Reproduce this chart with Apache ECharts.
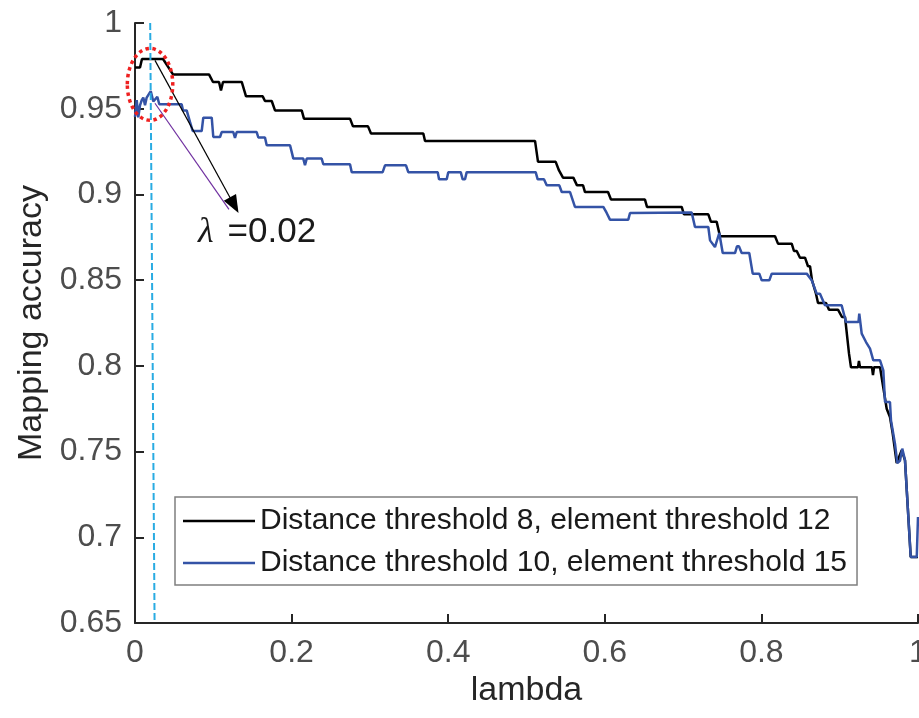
<!DOCTYPE html>
<html>
<head>
<meta charset="utf-8">
<title>Mapping accuracy vs lambda</title>
<script src="https://cdn.jsdelivr.net/npm/echarts@6/dist/echarts.min.js"></script>
<style>
  html, body { margin: 0; padding: 0; background: #fff; }
  #chart { width: 919px; height: 718px; }
</style>
</head>
<body>
<div id="chart"></div>
<script>
// Series 1: distance threshold 8, element threshold 12
const lambdaA = [0, 0.0064, 0.0089, 0.0358, 0.0485, 0.0945, 0.0996, 0.1073, 0.1098, 0.1124,
  0.1363, 0.1418, 0.1631, 0.1660, 0.1746, 0.1788, 0.2129, 0.2158, 0.2746, 0.2784,
  0.2976, 0.3014, 0.3682, 0.3704, 0.5109, 0.5147, 0.5373, 0.5415, 0.5434, 0.5466,
  0.5598, 0.5645, 0.5722, 0.5747, 0.6041, 0.6079, 0.6513, 0.6539, 0.6982, 0.7011,
  0.7322, 0.7356, 0.7429, 0.7471, 0.8174, 0.8212, 0.8387, 0.8416, 0.8451, 0.8493,
  0.8557, 0.8595, 0.8621, 0.8646, 0.8697, 0.8723, 0.8825, 0.8863, 0.8978, 0.9029,
  0.9068, 0.9119, 0.9144, 0.9234, 0.9246, 0.9259, 0.9412, 0.9425, 0.9438, 0.9515,
  0.9600, 0.9642, 0.9677, 0.9728, 0.9792, 0.9834, 0.9907, 1.0];
const accA = [0.974, 0.974, 0.979, 0.979, 0.970, 0.970, 0.9656, 0.9656, 0.9607, 0.9656,
  0.9656, 0.9572, 0.9572, 0.9545, 0.9545, 0.949, 0.949, 0.9442, 0.9442, 0.9397,
  0.9397, 0.9355, 0.9355, 0.9312, 0.9312, 0.919, 0.919, 0.914, 0.914, 0.9098,
  0.9098, 0.9053, 0.9053, 0.9014, 0.9014, 0.897, 0.897, 0.8927, 0.8927, 0.8884,
  0.8884, 0.884, 0.884, 0.8756, 0.8756, 0.8713, 0.8713, 0.867, 0.867, 0.8631,
  0.8631, 0.8581, 0.8581, 0.85, 0.8421, 0.8367, 0.8367, 0.8328, 0.8328, 0.8285,
  0.8285, 0.8071, 0.7992, 0.7992, 0.8028, 0.7992, 0.7992, 0.7946, 0.7992, 0.7992,
  0.775, 0.7702, 0.7605, 0.7433, 0.7508, 0.7449, 0.6885, 0.6885];

// Series 2: distance threshold 10, element threshold 15
const lambdaB = [0, 0.0022, 0.0042, 0.0064, 0.0086, 0.0106, 0.0128, 0.0149, 0.0170, 0.0201,
  0.0234, 0.0285, 0.0310, 0.0596, 0.0613, 0.0660, 0.0702, 0.0737, 0.0852, 0.0872,
  0.0980, 0.1000, 0.1086, 0.1107, 0.1255, 0.1277, 0.1299, 0.1554, 0.1575, 0.1660,
  0.1682, 0.1980, 0.2001, 0.2022, 0.2149, 0.2171, 0.2193, 0.2384, 0.2405, 0.2746,
  0.2768, 0.3163, 0.3193, 0.3461, 0.3490, 0.3866, 0.3883, 0.3981, 0.4001, 0.4160,
  0.4185, 0.4215, 0.4236, 0.5117, 0.5143, 0.5223, 0.5258, 0.5419, 0.5450, 0.5556,
  0.5619, 0.5981, 0.6024, 0.6041, 0.6066, 0.6300, 0.6322, 0.7110, 0.7152, 0.7322,
  0.7344, 0.7407, 0.7462, 0.7506, 0.7663, 0.7688, 0.7714, 0.7748, 0.7845, 0.7889,
  0.7973, 0.8004, 0.8101, 0.8132, 0.8579, 0.8642, 0.8706, 0.8748, 0.8812, 0.9025,
  0.9080, 0.9240, 0.9250, 0.9281, 0.9336, 0.9387, 0.9429, 0.9515, 0.9557, 0.9579,
  0.9642, 0.9655, 0.9706, 0.9736, 0.9770, 0.9799, 0.9834, 0.9907, 0.9984, 1.0];
const accB = [0.9452, 0.955, 0.945, 0.952, 0.955, 0.9565, 0.952, 0.9565, 0.9565, 0.9603,
  0.9542, 0.957, 0.9526, 0.9526, 0.949, 0.949, 0.9423, 0.937, 0.937, 0.9448,
  0.9448, 0.9335, 0.9335, 0.9364, 0.9364, 0.9329, 0.9364, 0.9364, 0.9332, 0.9332,
  0.9287, 0.9287, 0.9248, 0.9209, 0.9209, 0.917, 0.9209, 0.9209, 0.9176, 0.9176,
  0.913, 0.913, 0.917, 0.917, 0.913, 0.913, 0.9088, 0.9088, 0.913, 0.913,
  0.9088, 0.9088, 0.913, 0.913, 0.9088, 0.9088, 0.9053, 0.9053, 0.9014, 0.9014,
  0.8927, 0.8927, 0.8892, 0.8892, 0.8853, 0.8853, 0.8892, 0.8894, 0.881, 0.881,
  0.8732, 0.8693, 0.8775, 0.8658, 0.8658, 0.8697, 0.8697, 0.8658, 0.8658, 0.8538,
  0.8538, 0.8499, 0.8499, 0.8538, 0.8538, 0.85, 0.8421, 0.8421, 0.8353, 0.8353,
  0.8256, 0.8256, 0.8305, 0.8188, 0.8139, 0.81, 0.8032, 0.8032, 0.7974, 0.7789,
  0.7789, 0.7682, 0.7546, 0.7433, 0.7446, 0.7517, 0.7449, 0.6885, 0.6885, 0.7118];

const seriesNames = ['Distance threshold 8, element threshold 12',
                     'Distance threshold 10, element threshold 15'];
const xTicks = [0, 0.2, 0.4, 0.6, 0.8, 1];
const yTicks = [0.65, 0.7, 0.75, 0.8, 0.85, 0.9, 0.95, 1];

// Chosen lambda marker line (top and bottom ends)
const markerLine = [[0.0194, 1], [0.0250, 0.65]];
const markerLabel = '0.02';
// Annotation anchors in data units
const ellipseCenter = [0.0192, 0.9642];
const ellipseRadius = [0.029, 0.021];
const arrowBlack = [[0.0255, 0.9782], [0.1267, 0.8937]];
const arrowPurple = [[0.0255, 0.9532], [0.1200, 0.8913]];
const labelAnchor = [0.0805, 0.8779];

const zip = (xs, ys) => xs.map((x, i) => [x, ys[i]]);
const FONT = "'Liberation Sans', Arial, Helvetica, sans-serif";
const AXIS = '#262626';

const chart = echarts.init(document.getElementById('chart'), null, { renderer: 'canvas' });

chart.setOption({
  animation: false,
  backgroundColor: '#fff',
  textStyle: { fontFamily: FONT },
  grid: { left: 135, right: 1, top: 23, bottom: 95, containLabel: false, outerBoundsMode: 'none' },
  legend: {
    data: seriesNames,
    orient: 'vertical',
    left: 175, top: 497,
    padding: [6, 10, 4, 8],
    itemGap: 6,
    itemWidth: 72, itemHeight: 2.4,
    icon: 'rect',
    backgroundColor: '#fff',
    borderColor: '#7f7f7f', borderWidth: 1.5,
    textStyle: { fontSize: 30, color: '#1a1a1a', fontFamily: FONT, lineHeight: 36 }
  },
  xAxis: {
    type: 'value', min: xTicks[0], max: xTicks[xTicks.length - 1], interval: 0.2,
    name: 'lambda', nameLocation: 'middle', nameGap: 46,
    nameTextStyle: { fontSize: 34, color: AXIS, fontFamily: FONT },
    axisLine: { lineStyle: { color: AXIS, width: 2 } },
    axisTick: { inside: true, length: 9, lineStyle: { color: AXIS, width: 2 } },
    axisLabel: { fontSize: 32, color: '#4d4d4d', margin: 14, fontFamily: FONT,
                 formatter: v => String(+v.toFixed(2)) },
    splitLine: { show: false }
  },
  yAxis: {
    type: 'value', min: yTicks[0], max: yTicks[yTicks.length - 1], interval: 0.05,
    name: 'Mapping accuracy', nameLocation: 'middle', nameGap: 86,
    nameTextStyle: { fontSize: 34, color: AXIS, fontFamily: FONT },
    axisLine: { show: true, lineStyle: { color: AXIS, width: 2 } },
    axisTick: { show: true, inside: true, length: 9, lineStyle: { color: AXIS, width: 2 } },
    axisLabel: { fontSize: 32, color: '#4d4d4d', margin: 13, fontFamily: FONT,
                 formatter: v => String(+v.toFixed(2)) },
    splitLine: { show: false }
  },
  series: [
    {
      name: seriesNames[0], type: 'line', data: zip(lambdaA, accA),
      symbol: 'none', lineStyle: { color: '#000000', width: 2.5 },
      itemStyle: { color: '#000000' }
    },
    {
      name: seriesNames[1], type: 'line', data: zip(lambdaB, accB),
      symbol: 'none', lineStyle: { color: '#3453a6', width: 2.5 },
      itemStyle: { color: '#3453a6' }
    },
    {
      name: 'marker', type: 'line', data: markerLine, symbol: 'none', silent: true,
      lineStyle: { color: '#29abe2', width: 2, type: [7, 3] },
      markLine: {
        silent: true, animation: false, symbol: ['none', 'none'],
        label: { show: false },
        data: [
          [
            { coord: arrowBlack[0], lineStyle: { color: '#000000', width: 1.2, type: 'solid' },
              itemStyle: { color: '#000000' } },
            { coord: arrowBlack[1], symbol: 'triangle', symbolSize: [14, 18],
              itemStyle: { color: '#000000' } }
          ],
          [
            { coord: arrowPurple[0], lineStyle: { color: '#7030a0', width: 1.2, type: 'solid' } },
            { coord: arrowPurple[1] }
          ]
        ]
      }
    }
  ]
});

// Red dotted highlight ellipse and the lambda label, placed through the grid's scales
function placeAnnotations() {
  const c = chart.convertToPixel({ gridIndex: 0 }, ellipseCenter);
  const e = chart.convertToPixel({ gridIndex: 0 },
    [ellipseCenter[0] + ellipseRadius[0], ellipseCenter[1] + ellipseRadius[1]]);
  const t = chart.convertToPixel({ gridIndex: 0 }, labelAnchor);
  chart.setOption({
    graphic: [
      {
        type: 'ellipse', z: 100, silent: true,
        shape: { cx: c[0], cy: c[1], rx: e[0] - c[0], ry: c[1] - e[1] },
        style: { fill: 'none', stroke: '#ee2020', lineWidth: 3.5, lineDash: [3.5, 3.5] }
      },
      {
        type: 'text', z: 100, silent: true, x: t[0], y: t[1],
        style: {
          text: '{l|λ}{s|=' + markerLabel + '}',
          verticalAlign: 'middle', align: 'left',
          rich: {
            l: { fontFamily: "'Liberation Serif', 'DejaVu Serif', serif", fontStyle: 'italic',
                 fontSize: 36, fill: '#1a1a1a', padding: [0, 14, 0, 0] },
            s: { fontFamily: FONT, fontSize: 35, fill: '#1a1a1a' }
          }
        }
      }
    ]
  });
}
placeAnnotations();
</script>
</body>
</html>
